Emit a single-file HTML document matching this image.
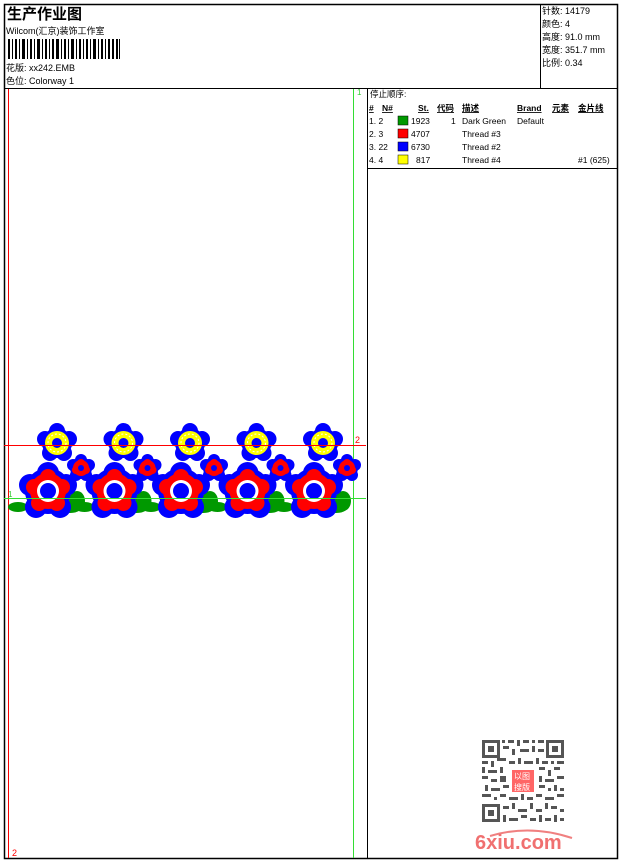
<!DOCTYPE html>
<html><head><meta charset="utf-8"><style>
body{margin:0;width:620px;height:860px;background:#fff;overflow:hidden;font-family:"Liberation Sans","Noto Sans CJK SC",sans-serif}
svg{position:absolute;left:0;top:0}
text{font-family:"Liberation Sans","Noto Sans CJK SC",sans-serif;fill:#000}
</style></head><body>
<svg width="620" height="860" viewBox="0 0 620 860">
<defs>
<g id="yf">
<circle r="15" fill="#0000ff"/>
<circle cx="0" cy="-12" r="8" fill="#0000ff"/><circle cx="12" cy="-4" r="8" fill="#0000ff"/><circle cx="7" cy="10" r="8" fill="#0000ff"/><circle cx="-7" cy="10" r="8" fill="#0000ff"/><circle cx="-12" cy="-4" r="8" fill="#0000ff"/>
<circle r="12" fill="#ffff00"/>
<circle r="9" fill="none" stroke="#fff" stroke-width="1" stroke-dasharray="2 2"/>
<circle r="5" fill="#0000ff"/>
</g>
<g id="rs">
<circle r="11" fill="#0000ff"/>
<circle cx="0" cy="-8" r="6" fill="#0000ff"/><circle cx="8" cy="-3" r="6" fill="#0000ff"/><circle cx="5" cy="7" r="6" fill="#0000ff"/><circle cx="-5" cy="7" r="6" fill="#0000ff"/><circle cx="-8" cy="-3" r="6" fill="#0000ff"/>
<circle r="8" fill="#ff0000"/>
<circle cx="0" cy="-5" r="4" fill="#ff0000"/><circle cx="5" cy="2" r="4" fill="#ff0000"/><circle cx="-5" cy="2" r="4" fill="#ff0000"/>
<circle r="3" fill="#0000ff"/>
</g>
<g id="rb">
<circle r="23" fill="#0000ff"/>
<circle cx="0" cy="-18" r="11" fill="#0000ff"/><circle cx="18" cy="-6" r="11" fill="#0000ff"/><circle cx="12" cy="16" r="11" fill="#0000ff"/><circle cx="-12" cy="16" r="11" fill="#0000ff"/><circle cx="-18" cy="-6" r="11" fill="#0000ff"/>
<circle r="18" fill="#ff0000"/>
<circle cx="0" cy="-14" r="8" fill="#ff0000"/><circle cx="14" cy="-4" r="8" fill="#ff0000"/><circle cx="9" cy="12" r="8" fill="#ff0000"/><circle cx="-9" cy="12" r="8" fill="#ff0000"/><circle cx="-14" cy="-4" r="8" fill="#ff0000"/>
<circle r="11" fill="#fff"/>
<circle r="8" fill="#0000ff"/>
</g>
<g id="rep">
<ellipse cx="-30" cy="16" rx="10" ry="5" fill="#009900"/>
<ellipse cx="29" cy="10" rx="8" ry="10" fill="#009900"/>
<ellipse cx="22" cy="17" rx="11" ry="5" fill="#009900"/>
<use href="#yf" x="9" y="-48"/>
<path d="M30 -20 L20 0" stroke="#0000ff" stroke-width="4"/>
<use href="#rs" x="33" y="-23"/>
<use href="#rb" x="0" y="0"/>
</g>
</defs>
<rect x="4.5" y="4.5" width="613" height="854" fill="none" stroke="#000" stroke-width="1.5"/>
<line x1="4" y1="88.5" x2="618" y2="88.5" stroke="#000"/>
<line x1="540.5" y1="4" x2="540.5" y2="88" stroke="#000"/>
<line x1="367.5" y1="88" x2="367.5" y2="859" stroke="#000"/>
<line x1="367" y1="168.5" x2="618" y2="168.5" stroke="#000"/>
<text x="7" y="19" font-size="15" font-weight="bold">生产作业图</text>
<text x="6" y="34" font-size="9">Wilcom(汇京)装饰工作室</text>
<g fill="#000">
<rect x="8" y="39" width="2" height="20"/><rect x="12" y="39" width="1" height="20"/><rect x="15" y="39" width="2" height="20"/><rect x="19" y="39" width="1" height="20"/><rect x="22" y="39" width="3" height="20"/><rect x="27" y="39" width="1" height="20"/><rect x="30" y="39" width="2" height="20"/><rect x="34" y="39" width="1" height="20"/><rect x="37" y="39" width="3" height="20"/><rect x="42" y="39" width="1" height="20"/><rect x="45" y="39" width="2" height="20"/><rect x="49" y="39" width="1" height="20"/><rect x="52" y="39" width="2" height="20"/><rect x="56" y="39" width="3" height="20"/><rect x="61" y="39" width="1" height="20"/><rect x="64" y="39" width="2" height="20"/><rect x="68" y="39" width="1" height="20"/><rect x="71" y="39" width="3" height="20"/><rect x="76" y="39" width="1" height="20"/><rect x="79" y="39" width="2" height="20"/><rect x="83" y="39" width="1" height="20"/><rect x="86" y="39" width="2" height="20"/><rect x="90" y="39" width="1" height="20"/><rect x="93" y="39" width="3" height="20"/><rect x="98" y="39" width="1" height="20"/><rect x="101" y="39" width="2" height="20"/><rect x="105" y="39" width="1" height="20"/><rect x="108" y="39" width="2" height="20"/><rect x="112" y="39" width="2" height="20"/><rect x="116" y="39" width="2" height="20"/><rect x="119" y="39" width="1" height="20"/>
</g>
<text x="6" y="71" font-size="9">花版: xx242.EMB</text>
<text x="6" y="84" font-size="9">色位: Colorway 1</text>
<g font-size="9">
<text x="542" y="14">针数: 14179</text>
<text x="542" y="27">颜色: 4</text>
<text x="542" y="40">高度: 91.0 mm</text>
<text x="542" y="53">宽度: 351.7 mm</text>
<text x="542" y="66">比例: 0.34</text>
</g>
<rect x="8" y="89" width="1" height="769" fill="#ff0000"/>
<rect x="353" y="89" width="1" height="769" fill="#33dd33"/>
<text x="357" y="95" font-size="8" style="fill:#33cc33">1</text>
<text x="12" y="856" font-size="9" style="fill:#ff0000">2</text>
<g transform="translate(48,491)">
<use href="#rep" x="0"/><use href="#rep" x="66.5"/><use href="#rep" x="133"/><use href="#rep" x="199.5"/><use href="#rep" x="266"/>
</g>
<rect x="4" y="445" width="362" height="1" fill="#ff0000"/>
<rect x="4" y="498" width="362" height="1" fill="#33dd33"/>
<text x="355" y="443" font-size="9" style="fill:#ff0000">2</text>
<text x="8" y="497" font-size="8" style="fill:#33cc33">1</text>
<g font-size="8.5">
<text x="370" y="97">停止顺序:</text>
<g font-weight="bold" text-decoration="underline">
<text x="369" y="111">#</text><text x="382" y="111">N#</text><text x="418" y="111">St.</text><text x="437" y="111">代码</text><text x="462" y="111">描述</text><text x="517" y="111">Brand</text><text x="552" y="111">元素</text><text x="578" y="111">金片线</text>
</g>
<text x="369" y="124">1. 2</text><rect x="398" y="116" width="10" height="9" fill="#009900" stroke="#000" stroke-width=".5"/><text x="411" y="124">1923</text><text x="451" y="124">1</text><text x="462" y="124">Dark Green</text><text x="517" y="124">Default</text>
<text x="369" y="137">2. 3</text><rect x="398" y="129" width="10" height="9" fill="#ff0000" stroke="#000" stroke-width=".5"/><text x="411" y="137">4707</text><text x="462" y="137">Thread #3</text>
<text x="369" y="150">3. 22</text><rect x="398" y="142" width="10" height="9" fill="#0000ff" stroke="#000" stroke-width=".5"/><text x="411" y="150">6730</text><text x="462" y="150">Thread #2</text>
<text x="369" y="163">4. 4</text><rect x="398" y="155" width="10" height="9" fill="#ffff00" stroke="#000" stroke-width=".5"/><text x="416" y="163">817</text><text x="462" y="163">Thread #4</text><text x="578" y="163">#1 (625)</text>
</g>
<g fill="#555">
<rect x="502" y="740" width="3" height="3"/><rect x="508" y="740" width="6" height="3"/><rect x="517" y="740" width="3" height="6"/><rect x="523" y="740" width="6" height="3"/><rect x="532" y="740" width="3" height="3"/><rect x="538" y="740" width="6" height="3"/>
<rect x="503" y="746" width="6" height="3"/><rect x="512" y="749" width="3" height="6"/><rect x="520" y="749" width="9" height="3"/><rect x="532" y="746" width="3" height="6"/><rect x="538" y="749" width="6" height="3"/>
<rect x="482" y="761" width="6" height="3"/><rect x="491" y="761" width="3" height="6"/><rect x="497" y="758" width="9" height="3"/><rect x="509" y="761" width="6" height="3"/><rect x="518" y="758" width="3" height="6"/><rect x="524" y="761" width="9" height="3"/><rect x="536" y="758" width="3" height="6"/><rect x="542" y="761" width="6" height="3"/><rect x="551" y="761" width="3" height="3"/><rect x="557" y="761" width="7" height="3"/>
<rect x="482" y="767" width="3" height="6"/><rect x="488" y="770" width="9" height="3"/><rect x="500" y="767" width="3" height="6"/><rect x="539" y="767" width="6" height="3"/><rect x="548" y="770" width="3" height="6"/><rect x="554" y="767" width="6" height="3"/>
<rect x="482" y="776" width="6" height="3"/><rect x="491" y="779" width="6" height="3"/><rect x="500" y="776" width="6" height="6"/><rect x="539" y="776" width="3" height="6"/><rect x="545" y="779" width="9" height="3"/><rect x="557" y="776" width="7" height="3"/>
<rect x="485" y="785" width="3" height="6"/><rect x="491" y="788" width="9" height="3"/><rect x="503" y="785" width="6" height="3"/><rect x="539" y="785" width="6" height="3"/><rect x="548" y="788" width="3" height="3"/><rect x="554" y="785" width="3" height="6"/><rect x="560" y="788" width="4" height="3"/>
<rect x="482" y="794" width="9" height="3"/><rect x="494" y="797" width="3" height="3"/><rect x="500" y="794" width="6" height="3"/><rect x="509" y="797" width="9" height="3"/><rect x="521" y="794" width="3" height="6"/><rect x="527" y="797" width="6" height="3"/><rect x="536" y="794" width="6" height="3"/><rect x="545" y="797" width="9" height="3"/><rect x="557" y="794" width="7" height="3"/>
<rect x="503" y="806" width="6" height="3"/><rect x="512" y="803" width="3" height="6"/><rect x="518" y="809" width="9" height="3"/><rect x="530" y="803" width="3" height="6"/><rect x="536" y="809" width="6" height="3"/><rect x="545" y="803" width="3" height="6"/><rect x="551" y="806" width="6" height="3"/><rect x="560" y="809" width="4" height="3"/>
<rect x="503" y="815" width="3" height="7"/><rect x="509" y="818" width="9" height="3"/><rect x="521" y="815" width="6" height="3"/><rect x="530" y="818" width="6" height="3"/><rect x="539" y="815" width="3" height="7"/><rect x="545" y="818" width="6" height="3"/><rect x="554" y="815" width="3" height="7"/><rect x="560" y="818" width="4" height="3"/>
<rect x="482" y="740" width="18" height="18"/><rect x="485" y="743" width="12" height="12" fill="#fff"/><rect x="488" y="746" width="6" height="6"/>
<rect x="546" y="740" width="18" height="18"/><rect x="549" y="743" width="12" height="12" fill="#fff"/><rect x="552" y="746" width="6" height="6"/>
<rect x="482" y="804" width="18" height="18"/><rect x="485" y="807" width="12" height="12" fill="#fff"/><rect x="488" y="810" width="6" height="6"/>
</g>
<rect x="512" y="770" width="22" height="22" fill="#f66"/>
<text x="514" y="779" font-size="8" style="fill:#fff">以图</text>
<text x="514" y="790" font-size="8" style="fill:#fff">搜版</text>
<path d="M490 836 Q530 824 572 838" stroke="#f08080" stroke-width="2" fill="none"/>
<text x="475" y="849" font-size="20" font-weight="bold" style="fill:#f07070">6xiu.com</text>
</svg>
</body></html>
